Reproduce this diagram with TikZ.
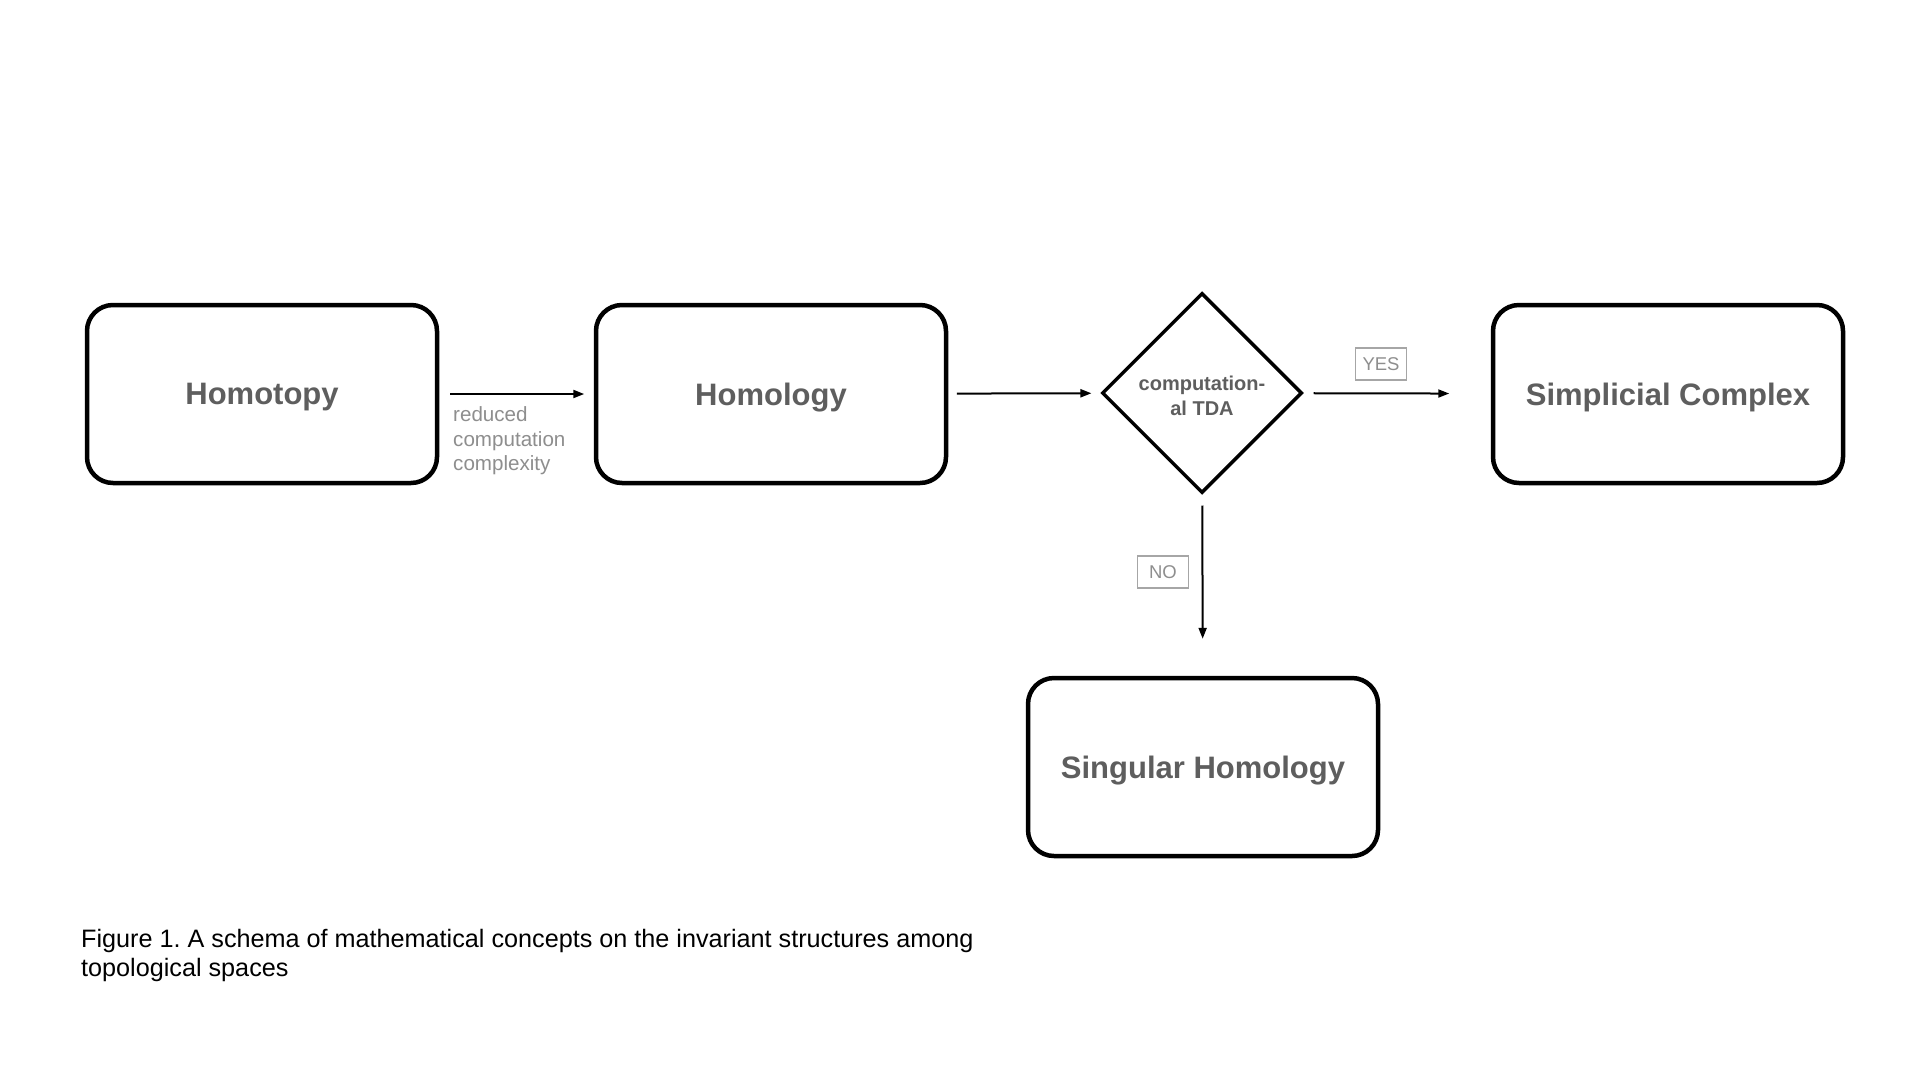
\documentclass[tikz,border=0pt]{standalone}
\usepackage{fontspec}
\setmainfont{Liberation Sans}
\usetikzlibrary{shapes.geometric,arrows.meta}
\definecolor{boxtext}{HTML}{5E5E5E}
\definecolor{labeltext}{HTML}{8E8E8E}
\definecolor{labelframe}{HTML}{A6A6A6}
\frenchspacing
\begin{document}
\begin{tikzpicture}[x=1pt,y=-1pt,
  concept/.style={draw=black, line width=4.5pt, rounded corners=26pt, minimum width=350pt, minimum height=178pt, inner sep=0pt, text depth=0pt, font=\fontsize{31}{37}\selectfont\bfseries, text=boxtext},
  decision/.style={draw=black, line width=3.5pt, diamond, aspect=1, minimum width=200pt, minimum height=200pt, inner sep=0pt, align=center, font=\fontsize{20}{24.5}\selectfont\bfseries, text=boxtext},
  flow/.style={line width=2pt, -{Triangle[length=11pt,width=8pt]}},
  tag/.style={draw=labelframe, line width=1.5pt, text=labeltext, font=\fontsize{18.5}{22}\selectfont, minimum width=51pt, minimum height=32pt, inner sep=0pt},
  note/.style={text=labeltext, font=\fontsize{20.6}{24.5}\selectfont, align=left, inner sep=0pt}
]
\useasboundingbox[fill=white] (0,0) rectangle (1920,1080);
\node[concept] (homotopy) at (262,394) {Homotopy};
\node[concept] (homology) at (771,394) {Homology};
\node[decision] (tda) at (1202,393) {\rule{0pt}{20pt}computation-\\al TDA};
\node[concept] (simplicial) at (1668,394) {Simplicial Complex};
\node[concept] (singular) at (1203,767) {Singular Homology};
\draw[flow, shorten <=11pt, shorten >=9.5pt] (homotopy) -- (homology);
\draw[flow, shorten <=8.5pt, shorten >=9pt] (homology) -- (tda);
\draw[flow, shorten <=10pt, shorten >=41.5pt] (tda) -- (simplicial);
\draw[flow, shorten <=11pt, shorten >=37pt] (tda) -- (singular);
\node[tag] (yes) at (1381,364) {YES};
\node[tag] (no) at (1163,572) {NO};
\node[note, anchor=north west] (reduced) at (453,406.5) {reduced\\computation\\complexity};
\node[anchor=north west, align=left, inner sep=0pt, font=\fontsize{25.2}{29.5}\selectfont] (caption) at (81,929) {Figure 1. A schema of mathematical concepts on the invariant structures among\\topological spaces};
\end{tikzpicture}
\end{document}
